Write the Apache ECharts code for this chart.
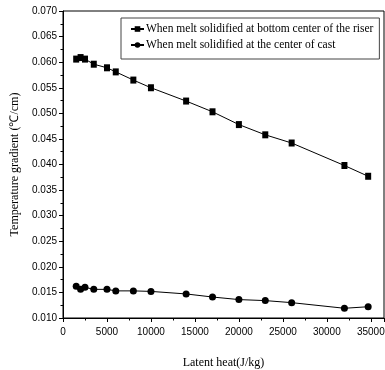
<!DOCTYPE html>
<html>
<head>
<meta charset="utf-8">
<script src="https://cdn.jsdelivr.net/npm/echarts@6/dist/echarts.min.js"></script>
<style>
  html, body { margin: 0; padding: 0; background: #fff; }
  #chart { width: 385px; height: 370px; }
</style>
</head>
<body>
<div id="chart"></div>
<script>
// latent heat (J/kg)
const latentHeat = [1500, 2000, 2500, 3500, 5000, 6000, 8000, 10000, 14000, 17000, 20000, 23000, 26000, 32000, 34700];
// temperature gradient (°C/cm)
const riserBottom = [0.0606, 0.0609, 0.0606, 0.0596, 0.0589, 0.0581, 0.0565, 0.0550, 0.0524, 0.0503, 0.0478, 0.0458, 0.0442, 0.0398, 0.0377];
const castCenter = [0.0162, 0.0156, 0.0160, 0.0156, 0.0156, 0.0153, 0.0153, 0.0152, 0.0147, 0.0141, 0.0136, 0.0134, 0.0130, 0.0119, 0.0122];
const seriesNames = ['When melt solidified at bottom center of the riser', 'When melt solidified at the center of cast'];

const serif = '"Liberation Serif", "Times New Roman", serif';
const sans = '"Liberation Sans", Arial, sans-serif';

function pairs(ys) {
  return latentHeat.map((x, i) => [x, ys[i]]);
}

const chart = echarts.init(document.getElementById('chart'), null, { renderer: 'canvas' });

chart.setOption({
  animation: false,
  backgroundColor: '#fff',
  grid: {
    left: 63, top: 11, right: 1, bottom: 52,
    outerBoundsMode: 'none',
    containLabel: false,
    show: true, borderColor: '#000', borderWidth: 1
  },
  legend: {
    orient: 'vertical',
    left: 121, top: 18,
    padding: [5, 6, 8, 9],
    itemGap: 4,
    itemWidth: 13, itemHeight: 7,
    borderColor: '#444', borderWidth: 1,
    backgroundColor: '#fff',
    textStyle: { fontFamily: serif, fontSize: 11.5, color: '#000', padding: [0, 0, 0, -3] },
    data: seriesNames
  },
  xAxis: {
    type: 'value',
    min: 0, max: 36500, interval: 5000,
    name: 'Latent heat(J/kg)',
    nameLocation: 'middle', nameGap: 39,
    nameTextStyle: { fontFamily: serif, fontSize: 12, color: '#000' },
    axisLine: { lineStyle: { color: '#000', width: 1 } },
    axisTick: { inside: false, length: 4, lineStyle: { color: '#000' } },
    minorTick: { show: true, splitNumber: 2, length: 2.5, lineStyle: { color: '#000' } },
    axisLabel: {
      fontFamily: sans, fontSize: 10, color: '#000', margin: 9,
      showMaxLabel: false,
      formatter: v => String(v)
    },
    splitLine: { show: false }
  },
  yAxis: {
    type: 'value',
    min: 0.010, max: 0.070, interval: 0.005,
    name: 'Temperature gradient (\u2103/cm)',
    nameLocation: 'middle', nameGap: 37,
    nameTextStyle: { fontFamily: serif, fontSize: 12, color: '#000' },
    axisLine: { show: true, lineStyle: { color: '#000', width: 1 } },
    axisTick: { show: true, inside: false, length: 4, lineStyle: { color: '#000' } },
    minorTick: { show: true, splitNumber: 2, length: 2.5, lineStyle: { color: '#000' } },
    axisLabel: {
      fontFamily: sans, fontSize: 10, color: '#000', margin: 6,
      formatter: v => v.toFixed(3)
    },
    splitLine: { show: false }
  },
  series: [
    {
      name: seriesNames[0],
      type: 'line',
      data: pairs(riserBottom),
      symbol: 'rect', symbolSize: [6, 7],
      lineStyle: { color: '#000', width: 1 },
      itemStyle: { color: '#000' }
    },
    {
      name: seriesNames[1],
      type: 'line',
      data: pairs(castCenter),
      symbol: 'circle', symbolSize: 7,
      lineStyle: { color: '#000', width: 1 },
      itemStyle: { color: '#000' }
    }
  ]
});
</script>
</body>
</html>
